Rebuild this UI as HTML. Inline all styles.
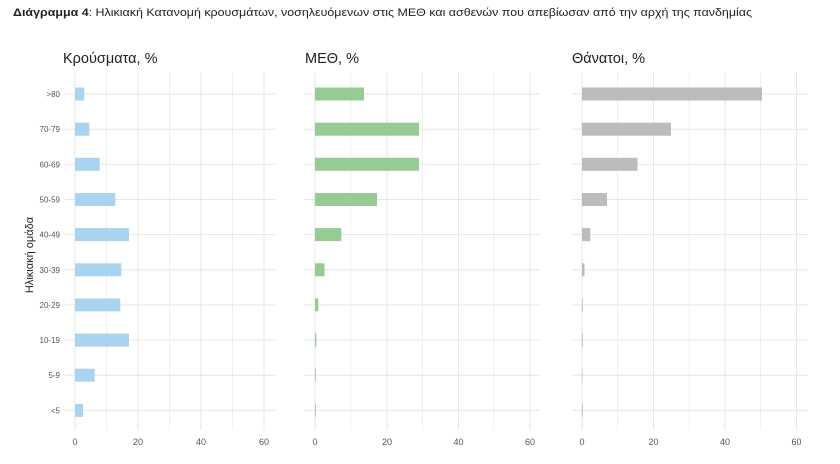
<!DOCTYPE html>
<html><head><meta charset="utf-8"><style>
html,body{margin:0;padding:0;background:#fff;}
svg{display:block;font-family:"Liberation Sans","DejaVu Sans",sans-serif;}
</style></head><body>
<svg width="840" height="464" viewBox="0 0 840 464" xmlns="http://www.w3.org/2000/svg">
<rect width="840" height="464" fill="#fff"/>
<text x="13" y="16" font-size="11" fill="#222" textLength="739" lengthAdjust="spacingAndGlyphs"><tspan font-weight="bold">Διάγραμμα 4</tspan>: Ηλικιακή Κατανομή κρουσμάτων, νοσηλευόμενων στις ΜΕΘ και ασθενών που απεβίωσαν από την αρχή της πανδημίας</text>

<!-- panel titles -->
<text x="63" y="63" font-size="14.5" fill="#222">Κρούσματα, %</text>
<text x="305" y="63" font-size="14.5" fill="#222">ΜΕΘ, %</text>
<text x="572" y="63" font-size="14.5" fill="#222">Θάνατοι, %</text>

<!-- y axis title -->
<text transform="translate(33,255) rotate(-90)" text-anchor="middle" font-size="11" fill="#222">Ηλικιακή ομάδα</text>

<!-- gridlines panel 1 -->
<g stroke="#f0f0f0" stroke-width="1">
<line x1="106.5" y1="72" x2="106.5" y2="430"/><line x1="169.5" y1="72" x2="169.5" y2="430"/><line x1="232.5" y1="72" x2="232.5" y2="430"/>
<line x1="351" y1="72" x2="351" y2="430"/><line x1="422.5" y1="72" x2="422.5" y2="430"/><line x1="494" y1="72" x2="494" y2="430"/>
<line x1="617.5" y1="72" x2="617.5" y2="430"/><line x1="689" y1="72" x2="689" y2="430"/><line x1="760.5" y1="72" x2="760.5" y2="430"/>
</g>
<g stroke="#e6e6e6" stroke-width="1">
<line x1="75" y1="72" x2="75" y2="430"/><line x1="138" y1="72" x2="138" y2="430"/><line x1="201" y1="72" x2="201" y2="430"/><line x1="264" y1="72" x2="264" y2="430"/>
<line x1="315" y1="72" x2="315" y2="430"/><line x1="387" y1="72" x2="387" y2="430"/><line x1="458.5" y1="72" x2="458.5" y2="430"/><line x1="530" y1="72" x2="530" y2="430"/>
<line x1="582" y1="72" x2="582" y2="430"/><line x1="653.5" y1="72" x2="653.5" y2="430"/><line x1="725" y1="72" x2="725" y2="430"/><line x1="796.5" y1="72" x2="796.5" y2="430"/>
</g>
<g stroke="#e6e6e6" stroke-width="1">
<line x1="65" y1="94" x2="275" y2="94"/><line x1="65" y1="129.2" x2="275" y2="129.2"/><line x1="65" y1="164.3" x2="275" y2="164.3"/><line x1="65" y1="199.5" x2="275" y2="199.5"/><line x1="65" y1="234.6" x2="275" y2="234.6"/><line x1="65" y1="269.8" x2="275" y2="269.8"/><line x1="65" y1="304.9" x2="275" y2="304.9"/><line x1="65" y1="340.1" x2="275" y2="340.1"/><line x1="65" y1="375.2" x2="275" y2="375.2"/><line x1="65" y1="410.4" x2="275" y2="410.4"/>
<line x1="304" y1="94" x2="540" y2="94"/><line x1="304" y1="129.2" x2="540" y2="129.2"/><line x1="304" y1="164.3" x2="540" y2="164.3"/><line x1="304" y1="199.5" x2="540" y2="199.5"/><line x1="304" y1="234.6" x2="540" y2="234.6"/><line x1="304" y1="269.8" x2="540" y2="269.8"/><line x1="304" y1="304.9" x2="540" y2="304.9"/><line x1="304" y1="340.1" x2="540" y2="340.1"/><line x1="304" y1="375.2" x2="540" y2="375.2"/><line x1="304" y1="410.4" x2="540" y2="410.4"/>
<line x1="572" y1="94" x2="808" y2="94"/><line x1="572" y1="129.2" x2="808" y2="129.2"/><line x1="572" y1="164.3" x2="808" y2="164.3"/><line x1="572" y1="199.5" x2="808" y2="199.5"/><line x1="572" y1="234.6" x2="808" y2="234.6"/><line x1="572" y1="269.8" x2="808" y2="269.8"/><line x1="572" y1="304.9" x2="808" y2="304.9"/><line x1="572" y1="340.1" x2="808" y2="340.1"/><line x1="572" y1="375.2" x2="808" y2="375.2"/><line x1="572" y1="410.4" x2="808" y2="410.4"/>
</g>

<!-- bars panel 1 -->
<g fill="#a9d4ef">
<rect x="75" y="87.5" width="9.3" height="13"/>
<rect x="75" y="122.7" width="14.3" height="13"/>
<rect x="75" y="157.8" width="24.7" height="13"/>
<rect x="75" y="193" width="40.3" height="13"/>
<rect x="75" y="228.1" width="54" height="13"/>
<rect x="75" y="263.3" width="46.3" height="13"/>
<rect x="75" y="298.4" width="45.3" height="13"/>
<rect x="75" y="333.6" width="54" height="13"/>
<rect x="75" y="368.7" width="19.7" height="13"/>
<rect x="75" y="403.9" width="8" height="13"/>
</g>
<!-- bars panel 2 -->
<g fill="#96cb93">
<rect x="315" y="87.5" width="49" height="13"/>
<rect x="315" y="122.7" width="104" height="13"/>
<rect x="315" y="157.8" width="104" height="13"/>
<rect x="315" y="193" width="62" height="13"/>
<rect x="315" y="228.1" width="26.3" height="13"/>
<rect x="315" y="263.3" width="9.5" height="13"/>
<rect x="315" y="298.4" width="3.3" height="13"/>
<rect x="315" y="333.6" width="1.3" height="13"/>
<rect x="315" y="368.7" width="0.8" height="13"/>
<rect x="315" y="403.9" width="0.8" height="13"/>
</g>
<!-- bars panel 3 -->
<g fill="#bcbcbc">
<rect x="582" y="87.5" width="180" height="13"/>
<rect x="582" y="122.7" width="89" height="13"/>
<rect x="582" y="157.8" width="55.5" height="13"/>
<rect x="582" y="193" width="25" height="13"/>
<rect x="582" y="228.1" width="8.3" height="13"/>
<rect x="582" y="263.3" width="2.5" height="13"/>
<rect x="582" y="298.4" width="0.8" height="13"/>
<rect x="582" y="333.6" width="0.8" height="13"/>
<rect x="582" y="368.7" width="0.5" height="13"/>
<rect x="582" y="403.9" width="0.8" height="13"/>
</g>

<!-- y tick labels -->
<g font-size="8" fill="#555" text-anchor="end">
<text x="60" y="97">&gt;80</text>
<text x="60" y="132.2">70-79</text>
<text x="60" y="167.3">60-69</text>
<text x="60" y="202.5">50-59</text>
<text x="60" y="237.6">40-49</text>
<text x="60" y="272.8">30-39</text>
<text x="60" y="307.9">20-29</text>
<text x="60" y="343.1">10-19</text>
<text x="60" y="378.2">5-9</text>
<text x="60" y="413.4">&lt;5</text>
</g>

<!-- x tick labels -->
<g font-size="9" fill="#555" text-anchor="middle">
<text x="75" y="445">0</text><text x="138" y="445">20</text><text x="201" y="445">40</text><text x="264" y="445">60</text>
<text x="315" y="445">0</text><text x="387" y="445">20</text><text x="458.5" y="445">40</text><text x="530" y="445">60</text>
<text x="582" y="445">0</text><text x="653.5" y="445">20</text><text x="725" y="445">40</text><text x="796.5" y="445">60</text>
</g>
</svg>
</body></html>
